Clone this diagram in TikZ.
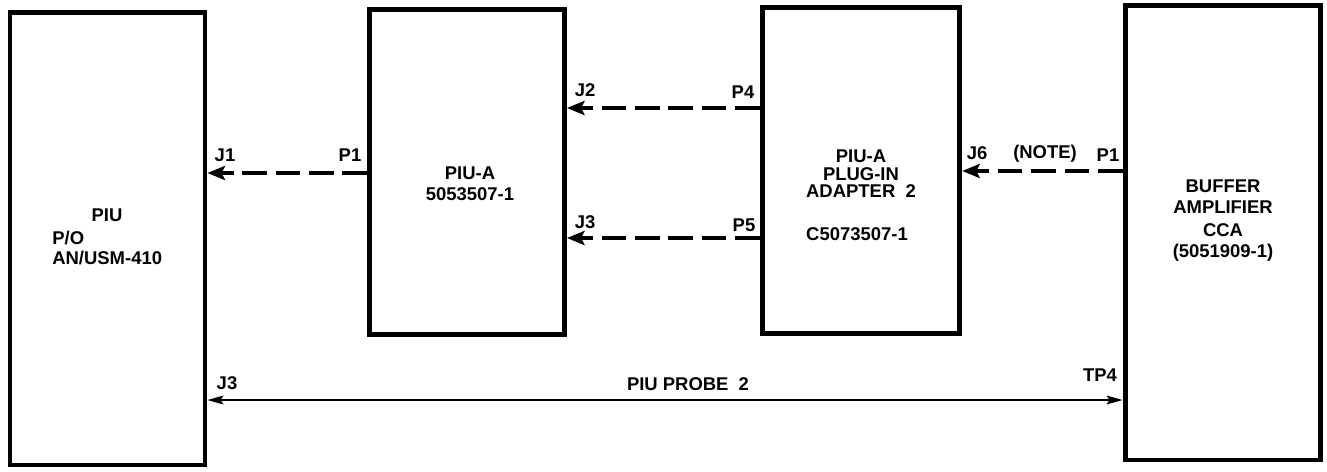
\documentclass[tikz,border=0pt]{standalone}
\usepackage{fontspec}
\setmainfont{Liberation Sans}
\usetikzlibrary{arrows.meta}
\tikzset{
  blk/.style={draw,line width=2.8pt,inner sep=0pt},
  txt/.style={inner sep=0pt,font=\fontsize{10.5}{12}\selectfont\bfseries},
  plug/.style={line width=2pt,dash pattern=on 14pt off 5pt,-{Stealth[length=10pt,width=8pt,inset=2pt]}},
  probe/.style={line width=1pt,{Stealth[length=9pt,width=5pt,inset=1.5pt]}-{Stealth[length=9pt,width=5pt,inset=1.5pt]}}
}
\begin{document}
\begin{tikzpicture}[x=0.02cm,y=-0.02cm]
  \fill[white] (0,0) rectangle (1327,471);
  \useasboundingbox (0,0) rectangle (1327,471);
  \node[blk,minimum width=3.9cm,minimum height=9.06cm] (piu) at (107.5,238.5) {};
  \node[blk,minimum width=3.9cm,minimum height=6.5cm] (piua) at (467,172) {};
  \node[blk,minimum width=3.95cm,minimum height=6.52cm] (adpt) at (861,170.5) {};
  \node[blk,minimum width=3.91cm,minimum height=9.1cm] (buf) at (1222.75,232.5) {};
  \node[txt] (piut) at (107,215) {PIU};
  \node[txt,anchor=west] (piupo) at (52,238) {P/O};
  \node[txt,anchor=west] (piuan) at (52,258) {AN/USM-410};
  \node[txt] (piuat) at (470,173) {PIU-A};
  \node[txt] (piuapn) at (470,194) {5053507-1};
  \node[txt] (adptt) at (861,156) {PIU-A};
  \node[txt] (adptpl) at (861,174) {PLUG-IN};
  \node[txt] (adptad) at (861,191) {ADAPTER\ \ 2};
  \node[txt] (adptpn) at (857,234) {C5073507-1};
  \node[txt] (buft) at (1223,186) {BUFFER};
  \node[txt] (bufam) at (1223,207) {AMPLIFIER};
  \node[txt] (bufcca) at (1223,230) {CCA};
  \node[txt] (bufpn) at (1223,253) {(5051909-1)};
  \node[txt] (lj1) at (225,155) {J1};
  \node[txt] (lp1a) at (350,155) {P1};
  \node[txt] (lj2) at (585,90) {J2};
  \node[txt] (lp4) at (743,92) {P4};
  \node[txt] (lj3a) at (585,222) {J3};
  \node[txt] (lp5) at (744,225) {P5};
  \node[txt] (lj6) at (977,153) {J6};
  \node[txt] (lnote) at (1045,154) {(NOTE)};
  \node[txt] (lp1b) at (1108,155) {P1};
  \node[txt] (lj3b) at (227,383) {J3};
  \node[txt] (ltp4) at (1100,375) {TP4};
  \node[txt] (lprobe) at (688,384) {PIU PROBE\ \ 2};
  \draw[plug] (piua.west |- 0,173) -- (piu.east |- 0,173);
  \draw[plug] (adpt.west |- 0,108) -- (piua.east |- 0,108);
  \draw[plug] (adpt.west |- 0,238) -- (piua.east |- 0,238);
  \draw[plug] (buf.west |- 0,171) -- (adpt.east |- 0,171);
  \draw[probe] (piu.east |- 0,400) -- (buf.west |- 0,400);
\end{tikzpicture}
\end{document}
